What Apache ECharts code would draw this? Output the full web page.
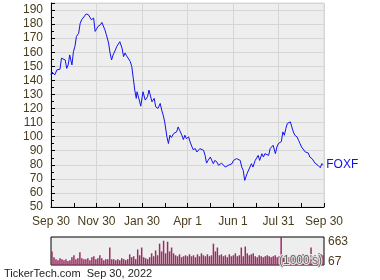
<!DOCTYPE html>
<html>
<head>
<meta charset="utf-8">
<script src="https://cdn.jsdelivr.net/npm/echarts@6/dist/echarts.min.js"></script>
<style>
html,body{margin:0;padding:0;background:#fff;}
#c{width:380px;height:280px;}
</style>
</head>
<body>
<div id="c"></div>
<script>
// Day offsets from Sep 30, 2021
const days = [0,1,3,5,8,10,12,14,16,19,21,23,25,28,30,32,34,37,39,41,43,47,50,52,54,57,59,61,63,66,68,70,72,74,77,79,81,83,86,88,90,92,95,97,99,101,103,106,108,110,112,114,115,118,120,123,126,129,131,135,138,140,143,146,148,150,152,155,157,159,161,164,166,168,170,172,175,177,179,181,184,186,188,190,193,195,197,199,201,204,206,208,210,213,215,217,219,222,224,226,228,230,233,235,237,239,242,244,246,248,250,253,255,257,259,262,264,266,268,270,273,275,277,279,282,284,286,288,291,293,295,297,300,302,304,306,308,310,312,314,316,317,320,322,324,326,329,331,333,335,337,340,342,344,346,349,351,353,355,357,360,362,364];
const prices = [143.9,146.2,146.9,143.9,147.5,146.2,147.9,155.8,156.5,154.5,148.5,151,158.1,151,160.5,164.1,171.2,173.5,180.5,183.1,181.9,187.2,186.7,186,183.1,184.3,174.8,173.5,178.4,179.5,181.2,180.8,176,172.5,166.5,159.4,154.5,158.1,161.5,164.1,164.5,167.5,162.9,156.9,159.5,157.5,156.9,153.4,149.8,141.5,133.1,127.2,131.9,126,121.7,131.9,126,128.4,133.1,124.8,127.2,121.2,120.1,123.6,118.9,115.3,110.5,99.8,95.1,101,99.4,102.2,102.6,103.4,106.9,104.5,101,97.9,101,98.6,99.8,96.2,95.1,90.8,91.5,89.1,90.3,91.5,92.6,90.3,86.7,81.2,83.1,85.5,84.4,80.8,83.1,81.9,79.6,80.8,81.2,80.8,78.4,77.2,79.6,78.4,80.8,83.1,81.9,84.4,85.5,83.1,78.4,76,68.9,73.6,74.8,78.4,80.8,78.4,83.1,81.9,86.7,83.1,87.9,85.5,87.9,89.1,86.7,91.5,90.3,93.9,87.9,92.6,95.1,93.9,96.5,103.4,101,105.8,109.4,110.5,110.5,106.9,103.4,101,99.8,97.4,95.1,92.6,91.5,89.1,87.9,88.4,85.5,84.4,83.1,81.2,81.9,79.6,77.9,80.8,80];
// Daily volume (thousands), sampled
const volumes = [322,184,138,115,161,138,115,138,92,115,
184,230,138,161,299,161,138,138,161,115,
184,207,138,161,230,161,115,138,138,414,
138,138,115,138,115,161,138,115,138,253,
184,207,138,368,230,414,184,161,138,184,
276,207,345,230,506,322,575,276,552,322,
414,276,230,207,253,184,207,230,207,253,
207,230,184,253,207,276,230,207,253,207,
230,506,322,414,230,253,207,230,184,253,
207,230,276,207,230,414,207,437,276,230,
253,276,207,184,230,207,184,207,230,207,
184,207,230,184,207,663,184,207,230,184,
207,184,230,207,230,207,253,230,207,184,
414,207,230,184,276,253,230];
const xLabels = ['Sep 30','Nov 30','Jan 30','Apr 1','Jun 1','Jul 31','Sep 30'];
const volLabels = [67, 663];
const ticker = 'FOXF';
const footer = 'TickerTech.com  Sep 30, 2022';

const txt = '#4a3c1c';
const FONT = '"Liberation Sans", Arial, sans-serif';
const chart = echarts.init(document.getElementById('c'), null, {renderer:'canvas'});
const step = 365/6;
chart.setOption({
  animation: false,
  backgroundColor: '#ffffff',
  textStyle: {fontFamily: FONT},
  title: [{text: footer, left: 4, top: 268, padding: 0,
    textStyle: {fontSize: 11, fontWeight: 'normal', color: '#222', fontFamily: FONT}}],
  graphic: [{type: 'text', left: 278, top: 254, z: 100,
    style: {text: "(1000's)", fontSize: 12, fontFamily: FONT, fill: '#5d6d5d', stroke: '#e6e6e6', lineWidth: 2}}],
  grid: [
    {left: 51, top: 3, width: 273, height: 204, show: true, backgroundColor: '#eeeeee', borderColor: '#d6d6d6', borderWidth: 1},
    {left: 51, top: 237, width: 273, height: 28, show: true, backgroundColor: '#eeeeee', borderColor: '#000', borderWidth: 1}
  ],
  xAxis: [
    {type: 'value', gridIndex: 0, min: 0, max: 365, interval: step,
      axisLine: {lineStyle: {color: '#000', width: 1}},
      axisTick: {inside: true, length: 4, lineStyle: {color: '#000'}},
      minorTick: {show: true, splitNumber: 2, length: 4, lineStyle: {color: '#000'}},
      splitLine: {show: true, lineStyle: {color: '#d6d6d6'}},
      axisLabel: {color: txt, fontSize: 12, margin: 9, fontFamily: FONT,
        formatter: v => xLabels[Math.round(v / step)] || ''}},
    {type: 'category', gridIndex: 1, data: volumes.map((_, i) => i),
      axisLine: {show: false}, axisTick: {show: false}, axisLabel: {show: false}, splitLine: {show: false}}
  ],
  yAxis: [
    {type: 'value', gridIndex: 0, min: 50, max: 195, interval: 10,
      axisLine: {show: true, lineStyle: {color: '#000', width: 1}},
      axisTick: {inside: true, length: 4, lineStyle: {color: '#000'}},
      minorTick: {show: true, splitNumber: 2, length: 3, lineStyle: {color: '#000'}},
      splitLine: {show: true, lineStyle: {color: '#d6d6d6'}},
      axisLabel: {color: txt, fontSize: 12, margin: 8, fontFamily: FONT,
        formatter: v => (v % 10 === 0 && v <= 190) ? String(v) : ''}},
    {type: 'value', gridIndex: 1, min: 0, max: 663, position: 'right',
      axisLine: {show: false}, axisTick: {show: false}, splitLine: {show: false},
      axisLabel: {show: true, customValues: volLabels, margin: 4, color: txt, fontSize: 12, fontFamily: FONT,
        formatter: v => v === 663 ? '{t|' + v + '}' : String(v),
        rich: {t: {padding: [10, 0, 0, 0], fontSize: 12, color: txt, fontFamily: FONT}}}}
  ],
  series: [
    {type: 'line', xAxisIndex: 0, yAxisIndex: 0, showSymbol: false, silent: true,
      data: days.map((d, i) => [d, prices[i]]),
      lineStyle: {color: '#1212ee', width: 1},
      endLabel: {show: true, formatter: ticker, color: '#1212ee', fontSize: 12, distance: 3, fontFamily: FONT}},
    {type: 'bar', xAxisIndex: 1, yAxisIndex: 1, silent: true, data: volumes,
      barCategoryGap: '25%', itemStyle: {color: '#9b2d62'}}
  ]
});
</script>
</body>
</html>
